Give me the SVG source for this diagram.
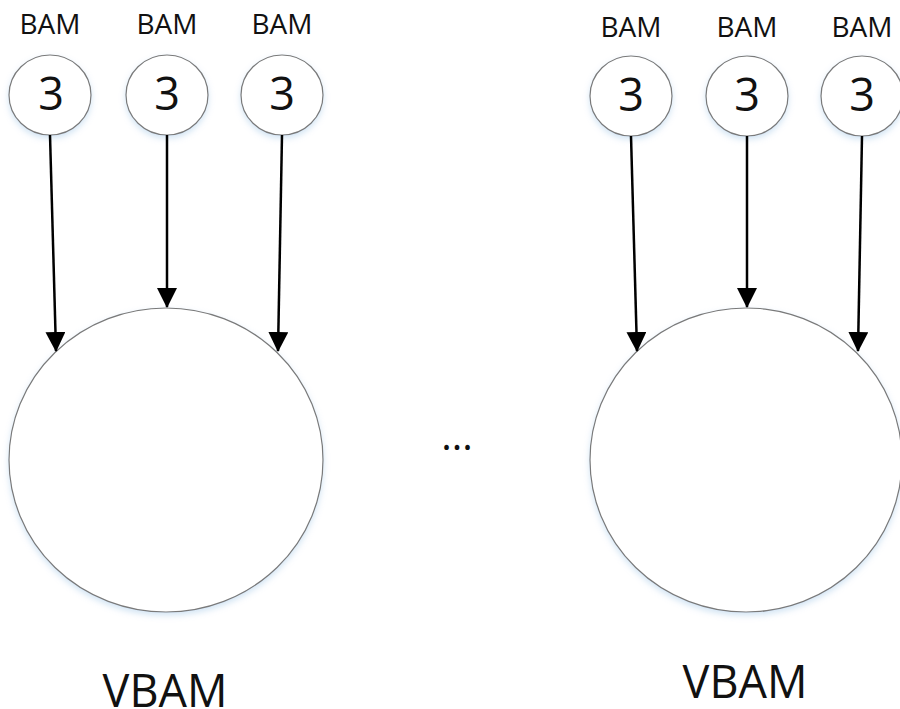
<svg xmlns="http://www.w3.org/2000/svg" width="900" height="709" viewBox="0 0 900 709">
<defs>
<marker id="arr" markerUnits="userSpaceOnUse" markerWidth="20" markerHeight="20" refX="19" refY="10" orient="auto">
<path d="M0,0 L20,10 L0,20 z" fill="#000"/>
</marker>
<filter id="sh" x="-20%" y="-20%" width="140%" height="140%">
<feDropShadow dx="0" dy="3" stdDeviation="3" flood-color="#9cc3e6" flood-opacity="0.45"/>
</filter>
</defs>
<style>
.sm{fill:#fff;stroke:#7a7a7a;stroke-width:1.2;filter:url(#sh)}
.big{fill:#fff;stroke:#7a7a7a;stroke-width:1.2;filter:url(#sh)}
.lbl{font-family:"Open Sans","Liberation Sans",sans-serif;font-size:28px;fill:#111;text-anchor:middle}
.num{font-family:"Open Sans","Liberation Sans",sans-serif;font-size:45px;fill:#111;text-anchor:middle}
.vb{font-family:"Open Sans","Liberation Sans",sans-serif;font-size:45px;fill:#111;text-anchor:middle}
.dt{font-family:"Open Sans","Liberation Sans",sans-serif;font-size:40px;fill:#111;text-anchor:middle}
.con{stroke:#000;stroke-width:2.5;fill:none;marker-end:url(#arr)}
</style>
<rect width="900" height="709" fill="#fff"/>
<g id="bam1"><text class="lbl" x="50" y="34">BAM</text><ellipse class="sm" cx="50" cy="95" rx="41" ry="40"/><text class="num" x="51" y="110">3</text></g>
<g id="bam2"><text class="lbl" x="167" y="34">BAM</text><ellipse class="sm" cx="167" cy="95" rx="41" ry="40"/><text class="num" x="167" y="110">3</text></g>
<g id="bam3"><text class="lbl" x="282" y="34">BAM</text><ellipse class="sm" cx="282" cy="95" rx="41" ry="40"/><text class="num" x="282" y="110">3</text></g>
<g id="bam4"><text class="lbl" x="631" y="37">BAM</text><ellipse class="sm" cx="631" cy="96" rx="41" ry="40"/><text class="num" x="631" y="111">3</text></g>
<g id="bam5"><text class="lbl" x="747" y="37">BAM</text><ellipse class="sm" cx="747" cy="96" rx="41" ry="40"/><text class="num" x="747" y="111">3</text></g>
<g id="bam6"><text class="lbl" x="862" y="37">BAM</text><ellipse class="sm" cx="862" cy="96" rx="41" ry="40"/><text class="num" x="862" y="111">3</text></g>
<g id="vbam1"><ellipse class="big" cx="166" cy="460" rx="157" ry="152"/><text class="vb" x="165" y="707">VBAM</text></g>
<g id="vbam2"><ellipse class="big" cx="746" cy="460" rx="156" ry="152"/><text class="vb" x="745" y="698">VBAM</text></g>
<g id="dots"><text class="dt" x="457" y="450">...</text></g>
<g id="connectors">
<line class="con" x1="50" y1="135" x2="56" y2="351"/>
<line class="con" x1="167" y1="135" x2="167" y2="307"/>
<line class="con" x1="282" y1="135" x2="278" y2="351"/>
<line class="con" x1="631" y1="136" x2="637" y2="351"/>
<line class="con" x1="747" y1="136" x2="747" y2="307"/>
<line class="con" x1="862" y1="136" x2="858" y2="351"/>
</g>
</svg>
